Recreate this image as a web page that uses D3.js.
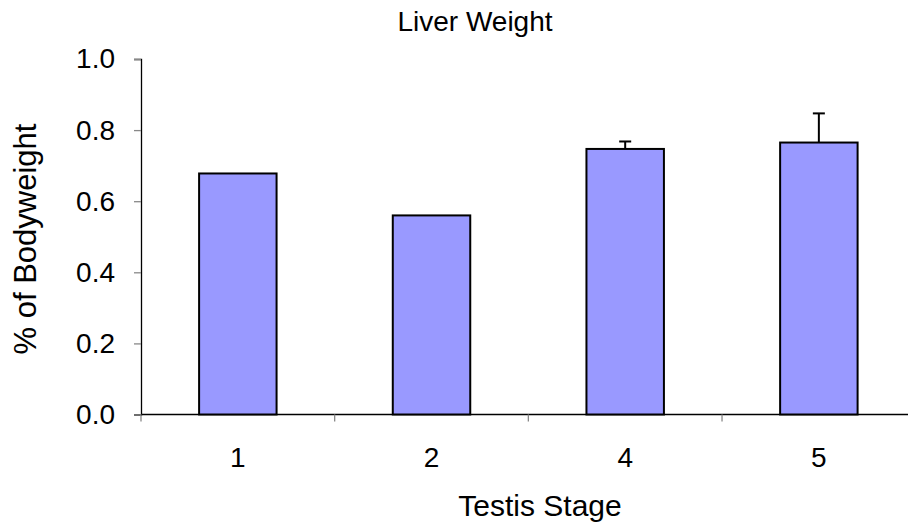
<!DOCTYPE html>
<html>
<head>
<meta charset="utf-8">
<script src="https://cdn.jsdelivr.net/npm/d3@7"></script>
<style>
  html, body { margin: 0; padding: 0; background: #fff; }
  svg { display: block; font-family: "Liberation Sans", Arial, sans-serif; }
</style>
</head>
<body>
<svg id="chart" width="908" height="526"></svg>
<script>
const categories = ["1", "2", "4", "5"];
const values = [0.678, 0.560, 0.747, 0.765];
const errors = [0, 0, 0.021, 0.082];
const yTicks = [0.0, 0.2, 0.4, 0.6, 0.8, 1.0];
const chartTitle = "Liver Weight";
const xTitle = "Testis Stage";
const yTitle = "% of Bodyweight";

(function () {
const svg = d3.select("#chart");
const pLeft = 141, pRight = 915.7, pTop = 59, pBottom = 414.5;

const x = d3.scaleBand().domain(categories).range([pLeft, pRight]).paddingInner(0.6).paddingOuter(0.3);
const xb = d3.scaleBand().domain(categories).range([pLeft, pRight]);
const y = d3.scaleLinear().domain([0, 1]).range([pBottom, pTop]);

// Y axis
const yAxis = svg.append("g").attr("transform", `translate(${pLeft},0)`)
  .call(d3.axisLeft(y).tickValues(yTicks).tickFormat(d3.format(".1f")).tickSize(7).tickPadding(19));
yAxis.select(".domain").attr("stroke", "#000").attr("stroke-width", 1.3);
yAxis.selectAll(".tick line").attr("stroke", "#888").attr("stroke-width", 1.3);
yAxis.selectAll(".tick text").attr("font-size", 28).attr("fill", "#000")
  .attr("font-family", "Liberation Sans, Arial, sans-serif");

// X axis line
svg.append("line").attr("x1", pLeft).attr("x2", 908).attr("y1", pBottom).attr("y2", pBottom)
  .attr("stroke", "#000").attr("stroke-width", 1.3);
// X ticks at band boundaries
const bounds = categories.map(c => xb(c)).concat([xb(categories[categories.length-1]) + xb.bandwidth()]);
svg.selectAll(".xt").data(bounds).enter().append("line")
  .attr("x1", d => d).attr("x2", d => d).attr("y1", pBottom).attr("y2", pBottom + 7)
  .attr("stroke", "#888").attr("stroke-width", 1.3);
svg.selectAll(".xl").data(categories).enter().append("text")
  .attr("x", d => xb(d) + xb.bandwidth() / 2).attr("y", 467)
  .attr("text-anchor", "middle").attr("font-size", 28).text(d => d);

// Bars
svg.selectAll(".bar").data(categories).enter().append("rect")
  .attr("x", d => x(d)).attr("width", x.bandwidth())
  .attr("y", (d, i) => y(values[i])).attr("height", (d, i) => y(0) - y(values[i]))
  .attr("fill", "#9999FF").attr("stroke", "#000").attr("stroke-width", 2);

// Error bars (upper only)
categories.forEach((c, i) => {
  if (errors[i] <= 0) return;
  const cx = x(c) + x.bandwidth() / 2;
  svg.append("line").attr("x1", cx).attr("x2", cx)
    .attr("y1", y(values[i])).attr("y2", y(values[i] + errors[i]))
    .attr("stroke", "#000").attr("stroke-width", 2);
  svg.append("line").attr("x1", cx - 6).attr("x2", cx + 6)
    .attr("y1", y(values[i] + errors[i])).attr("y2", y(values[i] + errors[i]))
    .attr("stroke", "#000").attr("stroke-width", 2);
});

// Titles
svg.append("text").attr("x", 475).attr("y", 31).attr("text-anchor", "middle")
  .attr("font-size", 28).text(chartTitle);
svg.append("text").attr("x", 540).attr("y", 516).attr("text-anchor", "middle")
  .attr("font-size", 30).text(xTitle);
svg.append("text").attr("transform", "translate(36,239) rotate(-90)").attr("text-anchor", "middle")
  .attr("font-size", 31).text(yTitle);
})();
</script>
</body>
</html>
